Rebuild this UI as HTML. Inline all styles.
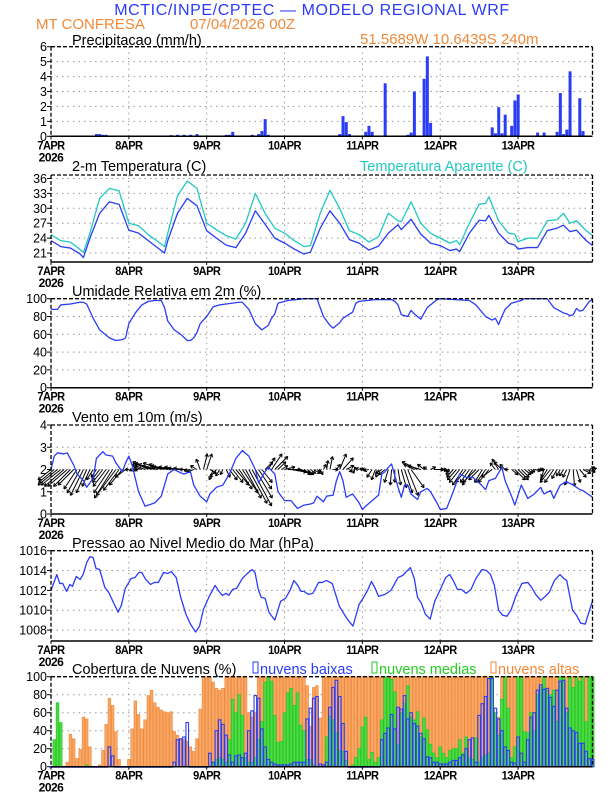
<!DOCTYPE html>
<html><head><meta charset="utf-8"><style>
html,body{margin:0;padding:0;background:#fff;}
body{width:612px;height:792px;overflow:hidden;font-family:"Liberation Sans",sans-serif;}
svg text{font-family:"Liberation Sans",sans-serif;}
</style></head><body>
<svg id="chart" width="612" height="792" viewBox="0 0 612 792" xmlns="http://www.w3.org/2000/svg">
<text x="312" y="15" font-size="16" fill="#2a3cf5" text-anchor="middle" letter-spacing="0.6">MCTIC/INPE/CPTEC — MODELO REGIONAL WRF</text>
<text x="36" y="29" font-size="15" fill="#f08a3a">MT CONFRESA</text>
<text x="190" y="29" font-size="15" fill="#f08a3a">07/04/2026 00Z</text>
<text x="360" y="44" font-size="15" fill="#f08a3a">51.5689W 10.6439S 240m</text>
<text x="72" y="45" font-size="14.5" fill="#000">Precipitacao (mm/h)</text>
<text x="72" y="171" font-size="14.5" fill="#000">2-m Temperatura (C)</text>
<text x="360" y="171" font-size="14.5" fill="#22c8c0">Temperatura Aparente (C)</text>
<text x="72" y="296" font-size="14.5" fill="#000">Umidade Relativa em 2m (%)</text>
<text x="72" y="422" font-size="14.5" fill="#000">Vento em 10m (m/s)</text>
<text x="72" y="548" font-size="14.5" fill="#000">Pressao ao Nivel Medio do Mar (hPa)</text>
<text x="72" y="674" font-size="14.5" fill="#000">Cobertura de Nuvens (%)</text>
<rect x="253" y="662" width="5" height="11" fill="none" stroke="#2a3cf5" stroke-width="1"/>
<text x="260" y="674" font-size="14.5" fill="#2a3cf5">nuvens baixas</text>
<rect x="372" y="662" width="5" height="11" fill="none" stroke="#22cc22" stroke-width="1"/>
<text x="379" y="674" font-size="14.5" fill="#22cc22">nuvens medias</text>
<rect x="491" y="662" width="5" height="11" fill="none" stroke="#f08a3a" stroke-width="1"/>
<text x="498" y="674" font-size="14.5" fill="#f08a3a">nuvens altas</text>
</svg>
<script>
// ---------- data ----------
const dayLabels = ["7APR","8APR","9APR","10APR","11APR","12APR","13APR"];
const precipHours = [14,15,16,17,37,39,41,43,45,54,55,56,62,64,65,66,67,89,90,91,92,97,98,99,103,110,111,112,114,115,116,117,121,136,137,138,139,140,142,143,144,145,150,152,156,157,158,159,160,161,163,164];
const precipValues = [0.15,0.15,0.1,0.1,0.08,0.1,0.1,0.1,0.15,0.1,0.1,0.3,0.1,0.15,0.35,1.15,0.1,0.15,1.35,0.95,0.15,0.3,0.7,0.3,3.55,0.1,0.25,3.0,0.05,3.85,5.35,0.9,0.05,0.6,0.2,1.95,0.2,1.45,0.7,2.4,2.8,0.05,0.25,0.25,0.3,2.9,0.15,0.45,4.35,0.05,2.55,0.35];
const precipTicks = [0,1,2,3,4,5,6];

const tempHours = [0,3,6,9,10,12,15,18,21,24,27,30,33,35,36,39,42,45,48,51,54,57,60,63,66,69,72,75,78,80,83,86,89,92,95,98,101,104,107,108,111,114,117,120,123,125,126,129,132,134,135,138,141,143,144,147,150,153,156,158,160,162,165,167];
const temp2m = [23.5,22.3,22.0,20.8,20.1,24.0,29,31.3,30.8,25.6,25,23.5,22,21.0,23.5,29,32.0,30.5,25.5,24,22.6,22.1,25,29.5,26.8,24,23,21.8,20.8,21.2,26,29.5,27,23.7,23,21.6,22.4,25,26.7,25.7,27.8,24.8,23,22.5,21.5,21.8,21.3,25,27.6,27.5,28.6,25,23,22.6,21.8,22.1,22.1,25.5,26,26.6,25.3,25.6,23.5,22.5];
const tempApparent = [24.7,23.5,23.2,21.7,21.1,25,32,34,33.5,27,26.5,24.7,23.3,22.3,25,32.5,35.5,34,27,25.7,24.5,23.8,27,33,29,26,25,23.5,22.3,22.5,29,33.6,30,25.5,24.7,23.2,24.3,29,27.5,27.3,31.3,27,25,24,23,23.5,22.7,27,30.8,31,32.3,27.5,25,24.8,23.3,24,24,27.5,27.7,29,27,27.5,25.5,24.5];
const tempTicks = [21,24,27,30,33,36];

const rhHours = [0,2,3,6,9,10,11,13,15,18,20,22,23,24,26,28,30,32,34,35,36,38,40,42,43,44,45,46,48,50,52,54,56,58,59,61,63,65,67,68,69,70,73,78,82,83,84,86,87,89,90,93,94,95,100,105,106,107,108,110,111,112,114,116,117,119,120,129,131,134,136,137,138,139,140,142,145,146,153,155,158,159,160,161,162,163,164,166,167];
const rhValues = [88,88,93,94,96,96,94,78,65,56,53,54,56,72,84,93,97,98,98,90,75,65,60,53,53,56,62,72,80,91,93,94,95,96,96,88,72,65,70,78,83,95,98,100,100,90,80,70,67,73,78,85,95,97,99,99,97,93,82,80,87,83,77,90,93,99,100,98,93,80,76,78,71,80,88,95,98,100,100,90,84,83,81,82,89,86,87,97,99];
const pctTicks = [0,20,40,60,80,100];

const windHours = [0,1,2,4,5,7,8,10,11,13,14,16,17,19,20,22,23,24,25,27,29,30,32,34,36,38,40,41,43,44,46,48,49,51,53,55,57,59,61,63,64,66,67,69,70,72,74,76,78,80,81,82,84,85,87,88,89,90,91,93,95,96,97,99,101,102,103,104,105,107,108,109,110,111,113,114,116,117,119,120,122,124,126,128,130,132,134,135,137,139,140,142,143,145,147,149,151,152,154,155,157,159,161,163,164,167];
const windSpeed = [2.0,2.6,2.75,2.7,2.75,2.2,1.8,1.5,1.2,1.6,2.5,2.8,2.65,2.6,2.3,1.9,2.3,2.6,2.2,1.0,0.35,0.4,0.5,0.8,1.8,2.0,1.85,1.8,1.9,1.3,0.8,0.55,0.9,1.2,1.3,1.8,2.5,2.85,2.6,2.0,1.4,1.9,2.1,1.8,1.0,0.6,0.6,0.25,0.4,0.45,0.5,0.8,0.55,0.8,0.85,1.5,1.9,1.5,0.75,0.9,0.5,0.2,0.35,0.6,0.85,1.8,1.9,2.1,2.25,1.2,0.75,1.3,1.3,0.9,0.65,1.0,1.15,1.0,0.5,0.2,0.25,1.0,1.8,1.65,1.65,1.4,1.1,1.5,1.6,2.1,1.5,0.8,0.4,1.3,0.7,0.9,1.2,0.9,1.05,0.7,1.3,1.45,1.3,1.1,1.05,0.75];
const windU = [-1,-1.2,-1.5,-1.5,-1.5,-1.5,-1.3,-1.2,-1,-1,-1,-.8,-.6,-.5,-.4,-.6,-.8,-1,-1.2,-1.4,-1.5,-1.2,-1,-.8,
 -.3,-.2,-.2,-.3,-.6,-1,-1.2,-1.3,-1.5,-1.5,-1.4,-1.2,-1.3,-1.4,-1.2,-1,-1,-.8,-.6,-.5,-.5,-.5,-.3,.3,
 .4,.5,-.3,-.5,-.3,-.2,.3,.6,.8,1,1,1.2,1.2,1.4,1.5,1.3,1,.8,.6,.5,.8,1,.6,.5,
 .8,1,1.2,1.3,1,.8,.6,.5,.4,.5,.3,.2,.2,.1,.2,.4,.3,.5,.8,.6,.2,.1,-.1,-.3,
 -.2,-.3,-.4,-.4,-.3,-.2,-.5,-.5,-.3,-.1,0,.2,.4,.6,.8,1,-.8,-1.2,-1,-.5,-.3,.4,.8,.5,
 .5,.3,.2,-.3,-.5,-.7,-.8,-.8,-.8,-.7,-.8,-1,-.8,-.6,-.7,-.8,-.8,-.4,-.5,-.6,-.4,-.3,.5,.8,
 .8,.6,.5,.4,.3,.5,.4,.3,-.2,-.5,-.8,-.7,-.4,-.3,-.3,-.3,-.4,.1,.3,.5,.6,.7,.4,.3];
const windV = [-.8,-1,-1.2,-1.2,-1.3,-1.3,-1.3,-1.2,-1.5,-1.8,-2,-1.8,-1.3,-.8,-.6,-.8,-1,-1.3,-1.8,-2.2,-2,-1.6,-1.2,-.6,
 0,-.1,-.1,0,.2,.4,.6,.5,.4,.4,.5,.4,.3,.2,.2,.2,.1,.1,0,-.1,-.2,.3,.8,1.2,
 1.2,-.3,-.8,-.6,-.5,-.4,-.6,-.8,-1,-1.2,-1.5,-1.8,-2.2,-2.6,-2.8,-2.2,-1.5,-1,.6,.9,1.2,1,.6,.3,
 .2,0,-.2,-.3,-.3,-.3,-.4,-.4,-.3,-.3,-.2,-.4,.4,.7,1,0,.4,1.2,.9,.3,-.2,-.3,.2,.1,
 .1,0,-.1,-.6,-.8,-.6,-.3,-.4,-1,-1.2,-1,-1.2,-1.4,-1.8,-2,-1.4,.4,.6,.3,.4,.2,.2,0,0,
 0,-.1,-.2,-.4,-.6,-.8,-1,-1.2,-1,-1,-1.2,-1,-.8,-1,-1,-1,-.6,.5,.8,.6,.4,0,-.4,-.8,
 -.8,-.6,-.4,-.3,-.2,-.1,0,0,-.6,-.8,-1,-1,-.7,-.5,-.5,-.6,-1.2,-1.3,-1,-.6,-.3,-.2,.2,.1];
const windTicks = [0,1,2,3,4];

const presHours = [0,1.8,2.7,3.6,4.8,5.8,6.6,7.8,9,9.9,11,12,13,13.9,15,16.6,17.8,19.5,20.7,21.7,22.9,24.7,25.9,27.1,28,29.2,30.7,31.9,33.1,34.7,35.9,37.1,38.6,40,41.6,43,44.6,45.8,47,48.8,50.6,51.8,52.8,54,54.8,56,57.2,59,60.5,62,62.9,63.9,64.8,66,67.2,69,70.8,72.3,73.7,74.9,76.1,77.1,78,79.3,80.7,82.5,83.7,84.9,86.7,88.9,90.4,91.6,93.1,95,96.4,97.6,98.8,99.8,101,103,104.8,107,108.4,109.6,110.8,112,113,114.2,115.4,116.9,118.3,119.9,121.7,122.9,124,125.3,126.5,128,129.5,131,132.9,134.3,135.5,136.7,138,139.2,140.6,141.8,143.4,145.2,147,148.2,149.4,151,152.4,153.6,155.2,156.9,158.1,159,160.8,162,163.3,164.7,167];
const presValues = [1012.0,1013.6,1012.7,1012.7,1011.9,1012.6,1012.4,1013.4,1013.1,1013.6,1014.8,1015.4,1015.3,1014.2,1014.1,1012.3,1011.8,1010.6,1009.8,1010.5,1012.2,1013.2,1013.3,1013.8,1013.8,1013.1,1012.6,1012.8,1012.8,1013.8,1013.7,1013.9,1013.3,1011.3,1009.6,1008.6,1007.8,1008.4,1010.1,1011.4,1012.5,1011.9,1011.5,1011.7,1011.5,1012.1,1012.2,1013.2,1013.7,1014.1,1013.8,1012.1,1011.3,1011.2,1009.8,1009.0,1010.9,1011.2,1012.0,1013.0,1012.5,1011.9,1011.9,1011.6,1011.7,1012.8,1012.8,1013.0,1012.7,1010.4,1009.6,1009.0,1008.4,1010.6,1011.3,1012.0,1012.9,1012.3,1011.4,1011.6,1012.0,1013.3,1013.5,1013.9,1014.3,1013.2,1011.3,1010.7,1009.6,1009.1,1010.9,1012.0,1013.3,1013.6,1013.0,1012.1,1012.1,1011.7,1012.1,1013.2,1014.1,1014.0,1013.6,1012.5,1010.0,1009.5,1009.4,1010.0,1011.5,1012.7,1012.8,1012.3,1011.6,1011.0,1011.4,1011.8,1013.0,1013.6,1013.2,1013.0,1010.0,1009.5,1008.7,1008.6,1011.0];
const presTicks = [1008,1010,1012,1014,1016];

const cloudHigh = [0,0,0,0,0,5,36,31,9,19,55,53,22,0,0,2,18,47,76,68,39,8,0,0,
 8,42,73,58,42,52,79,85,71,66,63,61,60,61,39,35,30,30,28,22,17,31,64,100,
 100,100,94,87,85,87,100,100,100,100,100,100,100,60,55,60,100,100,100,100,100,100,100,100,
 100,100,100,100,100,100,100,90,45,88,90,54,100,100,100,100,100,100,100,100,100,100,100,100,
 100,100,100,100,100,100,100,100,100,100,100,100,100,100,100,100,100,100,100,100,100,100,100,100,
 100,100,100,100,100,100,100,100,100,100,100,100,100,100,100,100,70,60,55,100,100,100,100,100,
 100,100,100,100,100,100,100,100,100,100,100,100,100,100,100,100,100,100,100,100,100,100,100,100];
const cloudMid = [0,30,71,49,0,0,0,0,0,0,0,2,0,0,0,0,0,0,0,0,0,0,0,0,
 0,0,0,0,0,0,0,0,0,0,0,0,0,0,0,0,0,0,0,0,0,0,0,0,
 0,0,5,8,10,8,5,30,75,60,80,57,10,5,5,10,30,50,94,100,95,57,27,28,
 60,82,87,68,82,46,40,8,8,2,0,0,0,33,56,52,38,18,17,7,0,2,10,20,
 44,55,8,16,5,10,52,100,98,97,83,25,60,70,90,55,52,61,33,54,41,25,15,10,
 22,15,10,18,20,20,30,15,33,10,8,32,5,10,13,15,100,60,35,75,100,65,10,22,
 100,100,39,38,60,40,80,88,100,85,80,85,50,100,100,60,100,88,100,95,100,50,100,100];
const cloudLow = [0,0,0,0,0,0,0,0,0,0,0,0,0,0,0,0,0,0,22,12,0,0,0,0,
 0,0,0,0,0,0,0,0,0,0,0,0,0,0,5,30,31,33,49,0,0,0,0,0,
 0,15,5,40,52,47,35,13,5,12,13,10,15,40,62,79,76,42,22,8,5,3,2,2,
 2,2,3,5,5,5,5,53,65,76,78,3,2,5,66,88,96,78,48,17,0,0,0,0,
 0,0,0,0,0,0,30,37,43,58,42,66,64,79,53,60,48,45,37,31,11,10,5,5,
 3,3,3,5,7,7,10,13,20,30,32,5,57,70,78,98,98,65,53,40,22,18,5,4,
 33,15,5,30,55,60,85,91,86,87,77,67,85,95,96,65,43,40,38,26,26,17,9,8];

// ---------- drawing ----------
const NS = "http://www.w3.org/2000/svg";
const svg = document.getElementById("chart");
const X0 = 51, HPX = 3.2435, XR = 592.5;
function xOf(h){ return X0 + h*HPX; }
function mk(tag, attrs, parent){
  const e = document.createElementNS(NS, tag);
  for (const k in attrs) e.setAttribute(k, attrs[k]);
  (parent||svg).appendChild(e);
  return e;
}
function scaleY(p){ return v => p.bottom - (v - p.min)/(p.max - p.min)*(p.bottom - p.top); }

const panels = [
  {key:"precip", top:46.7, bottom:136.3, min:0, max:6, ticks:precipTicks},
  {key:"temp", top:175, bottom:262, min:19.2, max:36.7, ticks:tempTicks},
  {key:"rh", top:298.7, bottom:387.7, min:0, max:100, ticks:pctTicks},
  {key:"wind", top:425, bottom:514, min:0, max:4, ticks:windTicks},
  {key:"pressure", top:550.7, bottom:641, min:1006.9, max:1016, ticks:presTicks},
  {key:"cloud", top:676.7, bottom:766.7, min:0, max:100, ticks:pctTicks}
];

function drawFrame(p){
  const g = mk("g", {});
  
  
  const y = scaleY(p);
  // grid
  p.ticks.forEach(t => {
    const yy = y(t);
    if (yy > p.top + 1 && yy < p.bottom - 1) {
      const gl = mk("line", {x1:X0, x2:XR, y1:yy, y2:yy, stroke:"#999", "stroke-width":1, "stroke-dasharray":"1.5,4"}, g);
      
      
    }
    const tl = mk("line", {x1:X0-4, x2:X0, y1:yy, y2:yy, stroke:"#000", "stroke-width":1}, g);
    
    
    const tx = mk("text", {x:X0-4, y:yy+4.5, "font-size":12.5, "text-anchor":"end", fill:"#000"}, g);
    tx.textContent = t;
    
    
  });
  for (let d = 1; d < 7; d++) {
    const vx = xOf(d*24);
    const vl = mk("line", {x1:vx, x2:vx, y1:p.top, y2:p.bottom, stroke:"#999", "stroke-width":1, "stroke-dasharray":"1.5,4"}, g);
    
    
  }
  p.g = g;
  return y;
}
function drawBorder(p){
  const g = mk("g", {});
  
  
  mk("line", {x1:X0, x2:XR, y1:p.top, y2:p.top, stroke:"#000", "stroke-width":1.3, "stroke-dasharray":"4,2"}, g);
  mk("line", {x1:XR, x2:XR, y1:p.top, y2:p.bottom, stroke:"#000", "stroke-width":1.3, "stroke-dasharray":"4,2"}, g);
  mk("line", {x1:X0, x2:X0, y1:p.top, y2:p.bottom, stroke:"#000", "stroke-width":1.3, "stroke-dasharray":"4,2"}, g);
  mk("line", {x1:X0, x2:XR, y1:p.bottom, y2:p.bottom, stroke:"#000", "stroke-width":1.5}, g);
  dayLabels.forEach((lab, d) => {
    const xx = xOf(d*24);
    mk("line", {x1:xx, x2:xx, y1:p.bottom, y2:p.bottom+3, stroke:"#000", "stroke-width":1}, g);
    const t = mk("text", {x:xx, y:p.bottom+13, "font-size":12, "text-anchor":"middle", fill:"#000", "letter-spacing":"-0.6", "font-weight":"bold", transform:"translate("+xx+",0) scale(0.92,1) translate("+(-xx)+",0)"}, g);
    t.textContent = lab;
    
    
  });
  const yr = mk("text", {x:X0, y:p.bottom+25, "font-size":12, "text-anchor":"middle", fill:"#000", "font-weight":"bold", "letter-spacing":"-0.5"}, g);
  yr.textContent = "2026";
  
  
}
function drawLine(hours, vals, y, color, name, width){
  const d = hours.map((h,i) => (i?"L":"M") + xOf(h).toFixed(2) + "," + y(vals[i]).toFixed(2)).join(" ");
  const p = mk("path", {d:d, fill:"none", stroke:color, "stroke-width":width||1.3, "stroke-linejoin":"round"});
  
  
}

// Panel 1 precip
let y = drawFrame(panels[0]);
precipHours.forEach((h,i) => {
  const r = mk("rect", {x:xOf(h)-1.4, y:y(precipValues[i]), width:3, height:panels[0].bottom - y(precipValues[i]), fill:"#2a3cf5"});
  
  
});
drawBorder(panels[0]);

// Panel 2 temp
y = drawFrame(panels[1]);
drawLine(tempHours, tempApparent, y, "#22c8c0", "apparent-temperature-line");
drawLine(tempHours, temp2m, y, "#2a3cf5", "temperature-line");
drawBorder(panels[1]);

// Panel 3 RH
y = drawFrame(panels[2]);
drawLine(rhHours, rhValues, y, "#2a3cf5", "humidity-line");
drawBorder(panels[2]);

// Panel 4 wind
y = drawFrame(panels[3]);
const ARW = 13;
windU.forEach((u,i) => {
  const x1 = xOf(i), y1 = y(2);
  const x2 = x1 + u*ARW, y2 = y1 - windV[i]*ARW;
  const len = Math.hypot(x2-x1, y2-y1);
  const g = mk("g", {});
  
  
  mk("line", {x1:x1, y1:y1, x2:x2, y2:y2, stroke:"#000", "stroke-width":1}, g);
  if (len > 2) {
    const ang = Math.atan2(y2-y1, x2-x1);
    const hl = 3.5;
    [2.6, -2.6].forEach(a => {
      mk("line", {x1:x2, y1:y2, x2:x2 - hl*Math.cos(ang + a*0.2), y2:y2 - hl*Math.sin(ang + a*0.2), stroke:"#000", "stroke-width":1}, g);
    });
  }
});
drawLine(windHours, windSpeed, y, "#2a3cf5", "wind-speed-line");
drawBorder(panels[3]);

// Panel 5 pressure
y = drawFrame(panels[4]);
drawLine(presHours, presValues, y, "#2a3cf5", "pressure-line");
drawBorder(panels[4]);

// Panel 6 clouds
y = drawFrame(panels[5]);
const bw = 2.6;
cloudHigh.forEach((v,i) => {
  if (v <= 0) return;
  const r = mk("rect", {x:xOf(i)-bw/2, y:y(v), width:bw, height:panels[5].bottom - y(v), fill:"#f8a868", stroke:"#f08a3a", "stroke-width":0.7});
  
  
});
cloudMid.forEach((v,i) => {
  if (v <= 0) return;
  const r = mk("rect", {x:xOf(i)-bw/2, y:y(v), width:bw, height:panels[5].bottom - y(v), fill:"#55d84a", stroke:"#22cc22", "stroke-width":0.8});
  
  
});
cloudLow.forEach((v,i) => {
  const r = mk("rect", {x:xOf(i)-bw/2, y:y(v), width:bw, height:Math.max(0.5, panels[5].bottom - y(v)), fill:"none", stroke:"#2a3cf5", "stroke-width":1.1});
  
  
});
drawBorder(panels[5]);
</script>
</body></html>
